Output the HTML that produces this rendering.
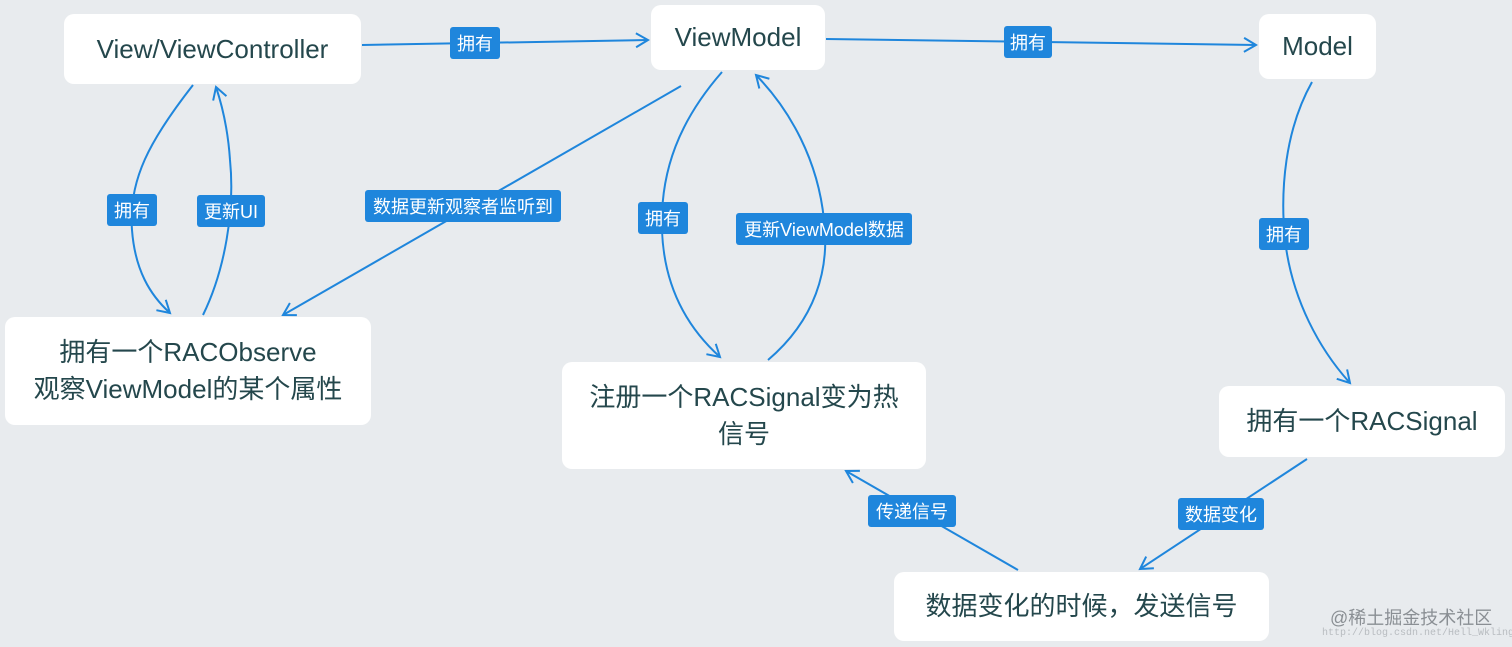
<!DOCTYPE html>
<html><head><meta charset="utf-8"><style>
html,body{margin:0;padding:0;background:#e8ebee;}
body{width:1512px;height:647px;position:relative;overflow:hidden;font-family:"Liberation Sans","Noto Sans CJK SC",sans-serif;}
.n{position:absolute;background:#fff;border-radius:10px;color:#24474c;font-size:26px;display:flex;align-items:center;justify-content:center;text-align:center;line-height:37px;}
.l{position:absolute;background:#1f86dc;color:#fff;font-size:18px;border-radius:3px;display:flex;align-items:center;justify-content:center;white-space:nowrap;}
</style></head><body>
<svg width="1512" height="647" style="position:absolute;left:0;top:0">
<defs><marker id="a" markerWidth="18" markerHeight="18" refX="13" refY="8" orient="auto" markerUnits="userSpaceOnUse"><path d="M1,1 L13,8 L1,15" fill="none" stroke="#1f86dc" stroke-width="2"/></marker></defs>
<g fill="none" stroke="#1f86dc" stroke-width="2" marker-end="url(#a)">
<path d="M362,45 L648,40"/>
<path d="M826,39 L1256,45"/>
<path d="M193,85 C150,140 128,180 132,230 C135,270 150,295 170,313"/>
<path d="M203,315 C225,270 235,210 230,160 C228,130 222,105 216,87"/>
<path d="M681,86 L283,315"/>
<path d="M722,72 C680,120 660,170 662,230 C664,290 690,330 720,357"/>
<path d="M768,360 C815,320 830,270 824,220 C818,160 790,110 756,75"/>
<path d="M1312,82 C1285,130 1280,190 1285,240 C1292,300 1320,350 1350,383"/>
<path d="M1307,459 L1140,569"/>
<path d="M1018,570 L846,471"/>
</g></svg>
<div class="n" style="left:64px;top:14px;width:297px;height:70px;">View/ViewController</div>
<div class="n" style="left:651px;top:5px;width:174px;height:65px;">ViewModel</div>
<div class="n" style="left:1259px;top:14px;width:117px;height:65px;">Model</div>
<div class="n" style="left:5px;top:317px;width:366px;height:108px;">拥有一个RACObserve<br>观察ViewModel的某个属性</div>
<div class="n" style="left:562px;top:362px;width:364px;height:107px;">注册一个RACSignal变为热<br>信号</div>
<div class="n" style="left:1219px;top:386px;width:286px;height:71px;">拥有一个RACSignal</div>
<div class="n" style="left:894px;top:572px;width:375px;height:69px;">数据变化的时候，发送信号</div>
<div class="l" style="left:450px;top:27px;width:50px;height:32px;">拥有</div>
<div class="l" style="left:1004px;top:26px;width:48px;height:32px;">拥有</div>
<div class="l" style="left:107px;top:194px;width:50px;height:32px;">拥有</div>
<div class="l" style="left:197px;top:195px;width:68px;height:32px;">更新UI</div>
<div class="l" style="left:365px;top:190px;width:196px;height:32px;">数据更新观察者监听到</div>
<div class="l" style="left:638px;top:202px;width:50px;height:32px;">拥有</div>
<div class="l" style="left:736px;top:213px;width:176px;height:32px;">更新ViewModel数据</div>
<div class="l" style="left:1259px;top:218px;width:50px;height:32px;">拥有</div>
<div class="l" style="left:1178px;top:498px;width:86px;height:32px;">数据变化</div>
<div class="l" style="left:868px;top:495px;width:88px;height:32px;">传递信号</div>
<div style="position:absolute;left:1330px;top:604px;font-size:18px;color:#8a8f94;">@稀土掘金技术社区</div>
<div style="position:absolute;left:1322px;top:628px;font-size:10px;color:#b8bcc0;font-family:'Liberation Mono',monospace;">http://blog.csdn.net/Hell_Wkling</div>
</body></html>
